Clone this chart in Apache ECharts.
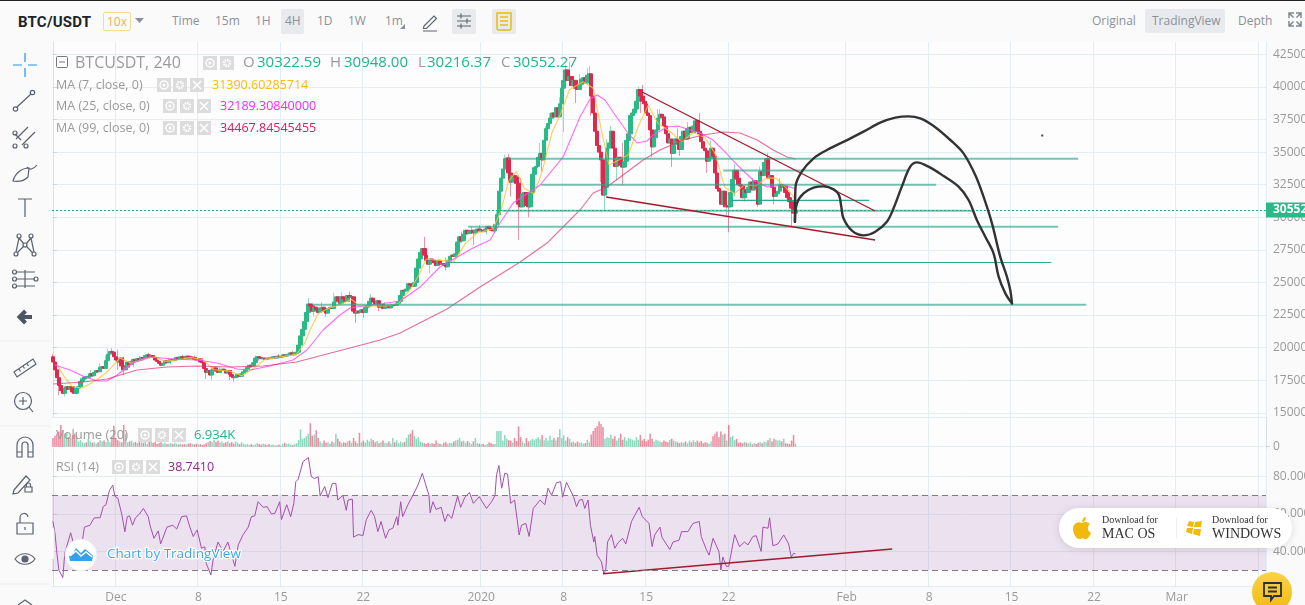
<!DOCTYPE html>
<html>
<head>
<meta charset="utf-8">
<title>BTC/USDT</title>
<script src="https://cdn.jsdelivr.net/npm/echarts@6/dist/echarts.min.js"></script>
<style>
  html, body { margin: 0; padding: 0; width: 1305px; height: 605px; overflow: hidden; background: #fafafa; font-family: "Open Sans", "Noto Sans", sans-serif; }
  #chart { position: absolute; left: 0; top: 0; width: 1305px; height: 605px; }
  .bar { position: absolute; left: 0; top: 0; width: 1305px; height: 41px; background: #fafafa; border-top: 1px solid #222; box-sizing: border-box; }
  .t { position: absolute; white-space: nowrap; font-size: 12px; color: #8a919b; line-height: 16px; }
  .on { position: absolute; background: #e8eaed; border-radius: 2px; }
  .tools { position: absolute; left: 0; top: 41px; width: 51px; height: 564px; background: #fafafa; }
  svg { position: absolute; left: 0; top: 0; overflow: visible; }
  .pill { position: absolute; left: 1059px; top: 508px; width: 233px; height: 40px; border-radius: 20px; background: #fff; box-shadow: 0 1px 8px rgba(0,0,0,.12); }
  .pill .s { position: absolute; white-space: nowrap; font-family: "Liberation Serif", serif; color: #333; }
  .chat { position: absolute; left: 1252px; top: 572px; width: 40px; height: 40px; border-radius: 50%; background: linear-gradient(#f9d34a, #f2b90f); }
</style>
</head>
<body>
<div id="chart"></div>

<div class="bar">
  <div class="t" style="left:18px;top:11px;font:bold 15px 'Roboto',sans-serif;color:#1e2329;line-height:20px;letter-spacing:.2px">BTC/USDT</div>
  <div class="t" style="left:103px;top:11px;width:26px;height:17px;border:1px solid #f5dc96;border-radius:2px;text-align:center;color:#e0b64c;line-height:17px">10x</div>
  <div class="on" style="left:281px;top:8px;width:23px;height:25px"></div>
  <div class="on" style="left:452px;top:8px;width:24px;height:25px"></div>
  <div class="on" style="left:492px;top:8px;width:24px;height:25px"></div>
  <div class="on" style="left:1145px;top:8px;width:80px;height:24px"></div>
  <div class="t" style="left:172px;top:12px">Time</div>
  <div class="t" style="left:215px;top:12px">15m</div>
  <div class="t" style="left:255px;top:12px">1H</div>
  <div class="t" style="left:285px;top:12px">4H</div>
  <div class="t" style="left:317px;top:12px">1D</div>
  <div class="t" style="left:348px;top:12px">1W</div>
  <div class="t" style="left:385px;top:12px">1m</div>
  <div class="t" style="left:1092px;top:12px">Original</div>
  <div class="t" style="left:1152px;top:12px">TradingView</div>
  <div class="t" style="left:1238px;top:12px">Depth</div>
</div>

<div class="tools"></div>

<svg width="1305" height="605" fill="none" stroke="#59626e" stroke-width="1.2">
  <path d="M135 18h9l-4.500 5z" fill="#8a919b" stroke="none"/>
  <path d="M405 29v-5l-5 5z" fill="#8a919b" stroke="none"/>
  <path d="M424 26l10-10 2.500 2.500-10 10h-3zM423 31h14" stroke="#5c6570"/>
  <path d="M457 16h14M457 21h14M457 26h14M461 13.500v5M467 18.500v5M461 23.500v5" stroke="#5c6570"/>
  <path d="M497 13h14v15a2 2 0 0 1-2 2h-10a2 2 0 0 1-2-2zM500 17h8M500 21h8M500 25h8" stroke="#efb90b" stroke-width="1.500"/>
  <path d="M1289 18v-5h5M1301 18v-5h-5M1289 21v5h5M1301 21v5h-5M1289 13l4.500 4.500M1301 13l-4.500 4.500M1289 26l4.500-4.500M1301 26l-4.500-4.500" stroke="#7e8791" stroke-width="1.500"/>

  <path d="M13 65h9M28 65h9M25 53v9M25 68v9" stroke="#2196e8"/>
  <path d="M17 107l14-13"/><circle cx="15.500" cy="109" r="2.200"/><circle cx="32.500" cy="92.500" r="2.200"/>
  <path d="M16 139l12-12M22 145l13-13M15 134l6 6"/><circle cx="15" cy="133" r="2"/><circle cx="15" cy="146" r="2"/><circle cx="26" cy="146" r="2"/>
  <path d="M13 181c2-8 9-13 16-13l-1 9c-4 4-9 5-15 4zM27 167c2 3 6 3 10-2"/>
  <path d="M18 199h14M25 199v18"/>
  <circle cx="16" cy="254" r="2"/><circle cx="19" cy="236" r="2"/><circle cx="31" cy="236" r="2"/><circle cx="25" cy="245" r="2"/><circle cx="34" cy="254" r="2"/>
  <path d="M16 252l3-14M19 238l5 6M31 238l-5 6M31 238l3 14M26 246l7 7M17 253l7-7"/>
  <path d="M17 272h18M17 279h18M17 286h18M25 270v18"/><circle cx="14.500" cy="272" r="2"/><circle cx="14.500" cy="279" r="2"/><circle cx="14.500" cy="286" r="2"/><circle cx="36" cy="279" r="2"/>
  <path d="M32 317H20M25.500 311l-6 6 6 6" stroke="#4b5563" stroke-width="4"/>
  <path d="M0 341h50M0 426h50M0 584h50" stroke="#ecedef"/>
  <path d="M14 372l19-13 3 5-19 13zM19 369l1.500 2.500M23 366l1.500 2.500M27 363.500l1.500 2.500"/>
  <circle cx="23" cy="401" r="8.500"/><path d="M29 407l4 5M19 401h8M23 397v8"/>
  <path d="M17 457v-12a8 8 0 0 1 16 0v12h-5v-12a3 3 0 0 0-6 0v12zM17 452h5M28 452h5"/>
  <path d="M14 490l12-14 4 4-12 13-5 1zM25 492h7v-5h-7zM26.500 487v-2a2 2 0 0 1 4 0v2"/>
  <path d="M17 534v-11h16v11zM20 523v-5a4 4 0 0 1 8-1M25 527v3" /><path d="M25 559m-10 0c5-7 15-7 20 0c-5 7-15 7-20 0z"/><circle cx="25" cy="559" r="3" fill="#59626e"/>
  <path d="M18 605l7-5 7 5" stroke="#59626e"/>
</svg>

<div class="pill">
  <svg style="left:13px;top:9px" width="20" height="23" viewBox="0 0 20 23" stroke="none"><path d="M10 6c3-2 6-1 8 1-3 2-3 7 1 9-1 3-4 7-6 6-2-1-3-1-5 0-3 1-7-5-7-10C1 7 6 4 10 6zM10 5c0-3 2-5 4-5 0 3-2 5-4 5z" fill="#f0b90b"/></svg>
  <div class="s" style="left:43px;top:6px;font-size:10px">Download for</div>
  <div class="s" style="left:43px;top:18px;font-size:14px">MAC OS</div>
  <div style="position:absolute;left:117px;top:10px;width:1px;height:20px;background:#eceef0"></div>
  <svg style="left:127px;top:12px" width="17" height="17" viewBox="0 0 17 17" stroke="none"><path d="M3 1l5 1-1 5-6-1zM9 2l7-1-1 6-7 0zM1 8l6 0-1 6-6-2zM8 9l7 0-1 7-7-2z" fill="#f0b90b"/></svg>
  <div class="s" style="left:153px;top:6px;font-size:10px">Download for</div>
  <div class="s" style="left:153px;top:18px;font-size:14px">WINDOWS</div>
</div>
<div class="chat"><svg style="left:11px;top:10px" width="20" height="22" fill="none" stroke="#2b2f36" stroke-width="1.800"><path d="M1 1h17v13H11l-3 4v-4H1zM5 5.500h9M5 9.500h9"/></svg></div>

<script>
// Chart window: 4-hour bars on a shared bar index; 618 slots cover the visible range.
const slotCount = 618;
const tickIndexes = [32, 74, 116, 158, 218, 260, 302, 344, 404, 446, 488, 530, 572, 614];
const tickLabels = ['Dec', '8', '15', '22', '2020', '8', '15', '22', 'Feb', '8', '15', '22', 'Mar', ''];
const priceTicks = [42500, 40000, 37500, 35000, 32500, 30000, 27500, 25000, 22500, 20000, 17500, 15000];
const rsiTicks = [80, 60, 40];

const closes = [
  18900,18300,17700,17100,16700,16500,16900,17000,16800,17000,
  16600,16500,16900,17000,17400,17600,17750,17700,17800,18000,
  17850,18100,18250,18150,18500,18550,18400,19000,19500,19700,
  19650,19300,19050,18900,19200,18600,18300,18500,18900,18700,
  18950,19100,19000,19150,19050,19250,19200,19400,19450,19300,
  19400,19250,19050,18950,18800,18650,18800,19000,18850,19050,
  19100,19000,19150,19250,19100,19300,19250,19150,19350,19300,
  19200,19250,19100,19050,19150,18900,18850,18400,18100,18250,
  17900,18300,18450,18200,18100,18300,18350,18250,18050,18250,
  17950,17800,17700,17780,17950,17800,18000,18150,18350,18500,
  18650,18600,18850,19200,19300,19250,19150,19200,19100,19200,
  19150,19250,19300,19200,19350,19250,19300,19450,19350,19400,
  19500,19600,19450,19550,19650,20200,20900,21400,22000,22700,
  23350,23200,22800,23100,22900,22700,23050,23100,22800,22650,
  23000,23100,23000,23500,23900,23600,23400,23900,23750,23550,
  24000,23850,23900,22800,22650,22800,22700,22900,22700,23100,
  23200,23550,23800,23500,23300,23600,23100,23300,23000,23150,
  23250,23050,23200,23300,23250,23400,23550,24000,24400,24350,
  24500,24900,24800,24700,25000,26100,26800,27300,27600,27100,
  26700,26400,26800,26700,26500,26300,26700,26400,26450,26300,
  26200,26700,27000,27100,27000,27200,28100,28500,28200,28700,
  29000,28750,28900,29000,28800,29000,29100,28950,29000,28900,
  29100,29300,29150,29000,28950,29450,30200,32000,33000,33700,
  34500,34550,33400,32700,33200,33100,32600,31000,30800,31800,
  31900,30900,30800,31900,33300,33800,33900,34600,34900,34400,
  35900,36800,37200,37600,38000,37700,38400,37700,38700,39900,
  40500,41300,40500,40800,40100,40500,39900,39800,40200,40600,
  40700,40300,40900,41000,39300,38000,36600,35500,35000,34400,
  31700,32300,35300,35700,36600,35300,33900,34500,34600,34000,
  33850,34300,35900,36400,37800,38000,38300,38900,39800,39300,
  38900,38700,38000,37800,36700,35400,36100,36700,37600,37900,
  37700,37000,36400,35700,36000,34900,35600,36000,35900,35200,
  36200,36600,36000,36800,36900,36500,37000,37400,36600,36400,
  35800,35300,35100,34300,34500,35300,34700,33400,32200,32000,
  31000,32000,30800,30900,30800,31900,32900,33600,33000,32500,
  32400,31500,32100,31900,32300,32700,32100,32800,32300,31000,
  33500,33200,34200,34500,33000,33200,32300,31600,31800,32000,
  32500,32300,32400,31900,31500,31200,30700,30322.59,30552.27
];
const firstOpen = 19300;

// Wick extremes that stand clear of the bodies: [bar, price].
const wickHighs = [
  [0,19500],[4,17600],[14,17700],[19,18300],[24,18800],[27,19400],[28,19900],[30,19950],[33,19850],[36,19300],
  [44,19350],[49,19600],[59,19250],[66,19450],[72,19400],[81,18600],[85,18500],[98,18450],[103,19400],[115,19500],
  [122,19750],[130,23800],[137,23500],[143,24200],[147,24250],[151,24300],[162,24100],[169,23500],[172,23500],
  [177,24300],[186,27100],[189,28500],[200,26900],[208,28900],[213,29300],[217,29400],[226,30500],[230,34800],[232,34850],
  [238,33000],[248,35700],[251,37000],[253,38000],[258,39200],[261,41700],[263,41950],[268,41000],[272,41450],[273,41600],
  [282,36000],[284,37000],[290,35700],[298,40000],[300,40150],[308,38300],[309,38300],[314,36600],[318,36800],[323,37300],
  [329,38000],[335,35900],[347,34100],[356,33000],[360,33900],[364,34900],[370,33000],[378,30948]
];
const wickLows = [
  [3,16350],[6,16250],[12,16400],[33,18300],[36,17900],[41,18500],[60,18700],[78,17600],[81,17500],[90,17500],[92,17400],
  [105,19000],[133,22400],[139,22350],[154,21900],[158,22300],[166,22800],[192,25700],[200,25950],[214,27880],[221,28650],
  [225,28800],[233,31600],[237,28250],[242,30000],[249,33500],[253,36800],[260,36550],[266,38760],[274,37800],
  [279,32700],[281,30550],[287,32850],[290,32460],[299,38000],[305,34600],[307,35800],[315,33860],[319,34700],[333,33400],
  [343,30000],[344,28850],[347,31600],[352,31200],[359,30800],[367,31000],[376,29250],[378,30216.37]
];

const volumes = [
  20,25,30,35,50,38,30,32,22,20,
  27,30,25,12,15,10,8,10,18,12,
  9,10,7,10,15,12,14,10,13,11,
  22,48,20,15,12,10,50,30,10,12,
  14,9,11,8,13,10,9,14,7,20,
  12,9,11,6,8,10,7,9,6,7,
  8,6,9,7,5,7,5,6,5,7,
  8,6,5,7,5,6,4,5,8,11,
  13,10,16,11,14,9,12,8,10,12,
  8,11,7,12,9,6,10,7,5,6,
  4,6,4,5,8,6,5,7,5,4,
  6,4,5,3,4,5,3,7,9,6,
  7,5,4,6,8,15,40,18,20,24,
  30,54,25,28,38,20,12,8,14,9,
  10,7,12,9,30,18,12,8,10,9,
  12,14,9,20,12,8,32,10,14,9,
  16,12,18,15,10,13,8,11,14,8,
  9,12,7,20,10,14,8,12,9,11,
  20,28,30,38,25,18,22,12,10,8,
  6,9,7,8,6,14,8,7,5,9,
  10,7,9,8,12,14,16,20,12,14,
  9,13,10,6,12,20,8,7,5,7,
  4,6,10,8,6,6,36,36,36,14,
  27,18,15,14,10,20,13,47,22,12,
  8,20,12,14,18,15,18,22,17,27,
  15,20,14,25,16,20,14,22,40,20,
  26,14,22,18,10,12,8,12,9,10,
  7,8,16,10,28,36,43,47,58,52,
  45,18,22,20,28,18,24,14,20,30,
  16,22,14,20,18,16,14,22,16,27,
  14,18,12,16,30,18,12,16,14,12,
  10,14,12,10,16,18,14,12,10,8,
  11,9,12,8,14,10,15,11,14,10,
  13,8,10,9,7,12,24,30,35,22,
  35,28,30,14,50,22,25,15,18,9,
  10,8,11,9,7,10,5,8,6,9,
  10,8,12,10,15,20,12,18,16,14,
  15,12,18,8,7,6,14,27,6.934
];

// Moving averages: [bar, price].
const ma7 = [[2,18700],[6,17700],[10,17000],[15,16900],[22,17500],[28,18200],[34,19200],[40,18800],[46,19100],[52,19300],[57,18950],[63,19050],[70,19250],[76,19100],[82,18300],[90,18200],[96,17850],[102,18400],[108,19100],[116,19300],[124,19500],[128,20300],[131,21400],[135,22600],[140,23000],[146,23300],[152,23700],[156,23200],[162,23200],[170,23200],[176,23400],[182,24500],[186,25500],[190,26800],[196,26700],[204,26600],[210,28000],[216,28800],[224,29100],[228,30500],[232,32800],[236,33500],[240,32200],[245,31800],[249,33500],[254,36500],[258,37800],[263,39800],[270,40400],[275,39900],[279,36800],[283,34000],[288,34400],[293,34800],[298,37000],[303,38600],[308,37200],[314,36600],[320,35800],[326,36500],[332,36100],[337,34900],[342,32300],[347,31800],[352,32500],[358,32400],[363,33000],[368,33000],[373,32300],[378,31390.6]];
const ma25 = [[1,18670],[8.7,18285],[16.3,17750],[22.9,17440],[27.5,17440],[32.6,17900],[40.7,18825],[49.4,19285],[61.1,19130],[73.3,19055],[83.5,18825],[93.7,18360],[100.3,18285],[110.5,18590],[122.2,19055],[129.3,19820],[137.5,21355],[146.1,22505],[151.2,23045],[157.8,23195],[166.5,23350],[176.7,23580],[186.9,24650],[197,26185],[205.7,26955],[213.8,27650],[222.5,28260],[227.6,29560],[234.2,31095],[248,32475],[259.7,34625],[268.3,37690],[273.4,39070],[277,39375],[281,38995],[285.1,38075],[292.3,36540],[297.4,35695],[302.4,35850],[305.5,36310],[312.6,36925],[318.2,37000],[324.3,36695],[329.4,36465],[336,35925],[341.1,35160],[348.3,34010],[356.4,32860],[363.5,32320],[371.7,32475],[378,32189.3]];
const ma99 = [[0,17212],[15.3,17365],[27.5,17595],[42.8,18285],[58,18515],[73.3,18590],[90,18515],[107,18590],[124,18900],[137.5,19435],[151.2,19975],[166.5,20590],[176.7,21125],[200.6,22965],[217.4,24650],[237.8,26570],[251.5,28025],[261.7,29560],[268.3,30560],[275,31860],[282,32320],[290.2,33240],[300.4,34395],[309,35160],[320.7,35925],[330.9,36310],[341.1,36540],[349.8,36465],[358.5,35925],[366.6,35160],[373.7,34620],[378,34467.8]];

// RSI(14) along the bars: [bar, value].
const rsiLine = [[0,56],[1,50],[2,39],[3,30],[5,26],[6,39],[9,50],[12,38],[15,46],[16,53],[18.8,54],[21,58],[24,58],[25.6,64],[27,65],[28.7,72.5],[30.4,75.5],[31.5,69.5],[33,68.5],[35,60],[36.6,50.5],[37.8,58.6],[39,59],[40.5,54],[42,58],[44,60],[46,63],[48.5,58.6],[49.4,54],[51.4,47],[53.6,51],[54.8,44],[58,53],[61,54],[63,52],[65.5,58.6],[68,59],[69.7,53],[71.4,48],[73.4,51.5],[75.6,41.7],[77.3,42.5],[78,33.6],[80.4,27.4],[81.5,35.4],[84,45],[86.6,40],[89,45],[92.6,32],[94.3,43.5],[96.8,49],[99.4,53],[101,58.6],[102.7,59],[104.4,66.6],[107,63.6],[109,64],[111.2,60],[113,60.4],[115.4,66.6],[116.3,57],[119,65],[121,58.6],[122.6,65.7],[123.6,77.3],[124.8,78.6],[127.3,88],[130,90.3],[131.5,80],[133.2,79],[135,80],[136,69.7],[138.3,74.7],[140,68.8],[142.2,76.4],[144,76.4],[145,67.5],[147.6,70],[149.3,62],[150.2,67.5],[152.4,68],[153,47.6],[155.3,49],[157.8,48.5],[159.5,57],[162,62],[163.7,58.6],[165.4,50.6],[167,56],[169.3,47],[171,51.5],[173,52.4],[175,58.6],[175.6,54],[177,66.6],[178,58.6],[180.7,65],[183.2,70],[185.8,75.5],[188,81.8],[189,81.8],[191.4,70],[192,60.7],[193.4,66.6],[195,62.5],[197.6,63.6],[199.5,56],[201,60],[203,57.7],[206,69.7],[207.5,63.6],[209.7,69],[212,71.6],[214,65.7],[217,69.3],[218,67.5],[220.7,63],[223.3,66.6],[225,70],[225.8,81],[227,86],[228.4,73.8],[230,81.8],[231.4,81.4],[233,65.7],[235,67.5],[237.3,48.8],[238.5,54],[240.7,55],[242.4,48],[244.5,63],[248,67.5],[250.4,65],[252,73.8],[253.8,70],[256.3,76.8],[258.4,77.3],[259.4,69],[261.4,77],[265,69.3],[266.5,64],[268,67.5],[269.5,67.8],[270.7,63],[272.4,67.5],[273.6,54],[275.3,45],[275.8,48],[277,38],[279.2,34.5],[280.4,28],[281.4,30],[282.3,45],[284.3,49],[286,41.7],[287.7,44.7],[290,47],[291.6,44],[294.5,56],[296,59],[298.4,63.6],[300,58.6],[303.4,55],[305,42.6],[306.3,48.8],[309,53],[310,47.6],[314,41],[315.6,45],[318.7,46],[320,50.6],[323.3,50.6],[325.8,55],[329,56],[330,48],[332.6,41],[334,38],[336,47],[339,40],[340,30],[341,37],[342.8,32],[344,32],[347,49],[349.5,42.6],[352,45],[353.8,43.5],[356.3,48],[358,48.4],[360.5,40],[361.4,53],[364,52.4],[364.8,58],[366.5,43],[369,44],[372,48.8],[374.5,44],[375.8,37],[377,39],[378,38.74]];

// Analyst drawings on the price pane: horizontal levels in USDT with their bar spans.
const levelPrices = [34493, 33587, 32500, 31300, 30504, 29277, 26531, 23295];
const levelStarts = [231.7, 341.2, 248.5, 345.7, 228.6, 211.3, 200.6, 131.9];
const levelEnds = [521.9, 434.8, 449.6, 415.5, 468.4, 511.7, 508.2, 526];
const trendUpper = [[299.9,39608],[418.5,30481]];
const trendLower = [[281.6,31555],[418.5,28257]];
const trendRsi = [[280,28.1],[427.2,41.3]];
const sketchHigh = [[377.7,29662],[378,32347],[381.2,33497],[387.2,34520],[394,35160],[405,35978],[412.6,36566],[421.1,37256],[428.8,37640],[435.5,37742],[441.5,37589],[448.3,37000],[456.8,35927],[463.5,34904],[469.5,33242],[473.7,31580],[478,29534],[482.2,26977],[485.6,25443],[487.3,24420],[488.2,23397]];
const sketchLow = [[377.7,29662],[378.7,31068],[382.1,31835],[387.2,32270],[392.3,32372],[397.4,32142],[400.1,31708],[401.3,30813],[402.4,29918],[406.7,28971],[412.6,28614],[418.6,28895],[424.5,29662],[427.9,30685],[432.1,32347],[436.4,33881],[439.8,34213],[445.7,33881],[453.4,33165],[461,32347],[466.1,31324],[470.3,29790],[474.6,28511],[478.8,27233],[481.4,25443],[484.8,24165],[488.2,23397]];
const strayDot = [[503.6,36270]];

const lastPrice = 30552.27;
const GREEN = '#2bb987', RED = '#e0284f', GRID = '#e4edf3', LABEL = '#9a9a9a';

const opens = closes.map((c, i) => i === 0 ? firstOpen : closes[i - 1]);
const highByBar = new Map(wickHighs), lowByBar = new Map(wickLows);
const categories = Array.from({ length: slotCount }, (_, i) => String(i));
const tickLabelByIndex = new Map(tickIndexes.map((t, i) => [t, tickLabels[i]]));
const isTick = idx => tickLabelByIndex.has(idx);

const wickData = closes.map((c, i) => {
  const o = opens[i];
  return [o, c, lowByBar.has(i) ? lowByBar.get(i) : Math.min(o, c), highByBar.has(i) ? highByBar.get(i) : Math.max(o, c)];
});
const bodyData = closes.map((c, i) => [opens[i], c, Math.min(opens[i], c), Math.max(opens[i], c)]);
const isUp = i => closes[i] >= opens[i];

const bandAxis = (gridIndex, extra) => Object.assign({
  type: 'category', gridIndex, data: categories, boundaryGap: true,
  axisLine: { lineStyle: { color: GRID } }, axisTick: { show: false }, axisLabel: { show: false },
  splitLine: { show: true, interval: idx => isTick(idx), lineStyle: { color: GRID } }
}, extra);
const barScale = gridIndex => ({ type: 'value', gridIndex, min: -0.5, max: slotCount - 0.5, show: false });

const sideAxis = (gridIndex, min, max, ticks, fmt) => ({
  type: 'value', gridIndex, position: 'right', min, max, scale: true,
  axisLine: { show: true, lineStyle: { color: '#d9dfe4' } },
  axisTick: { show: true, length: 4, customValues: ticks, lineStyle: { color: '#cfd6db' } },
  axisLabel: { customValues: ticks, formatter: fmt, color: LABEL, fontSize: 12, margin: 7, fontFamily: 'Open Sans' },
  splitLine: { show: true, lineStyle: { color: GRID } }
});

const pane = (xAxisIndex, yAxisIndex, data, color, width, extra) => Object.assign({
  type: 'line', xAxisIndex, yAxisIndex, data, showSymbol: false, symbol: 'none', silent: true,
  lineStyle: { color, width }, animation: false, z: 4
}, extra);

const series = [
  { type: 'candlestick', xAxisIndex: 0, yAxisIndex: 0, data: wickData, barWidth: 1, z: 2, silent: true, animation: false,
    itemStyle: { color: 'rgba(43,185,135,.5)', color0: 'rgba(224,40,79,.5)', borderColor: 'rgba(43,185,135,.5)', borderColor0: 'rgba(224,40,79,.5)', borderWidth: 1 } },
  { type: 'candlestick', xAxisIndex: 0, yAxisIndex: 0, data: bodyData, barWidth: 4, z: 3, silent: true, animation: false,
    itemStyle: { color: GREEN, color0: RED, borderColor: GREEN, borderColor0: RED, borderWidth: 1 } },
  pane(3, 0, ma7, 'rgba(255,196,60,.85)', 1.1),
  pane(3, 0, ma25, 'rgba(255,80,250,.85)', 1.1),
  pane(3, 0, ma99, 'rgba(216,50,110,.7)', 1.1),
  { type: 'bar', xAxisIndex: 1, yAxisIndex: 1, data: volumes, barWidth: 1.5, silent: true, animation: false,
    itemStyle: { color: p => isUp(p.dataIndex) ? 'rgba(43,185,135,.55)' : 'rgba(224,40,79,.55)' } },
  pane(4, 2, rsiLine, '#a44fae', 1, {
    markArea: { silent: true, itemStyle: { color: 'rgba(150,90,165,.16)' }, data: [[{ yAxis: 70 }, { yAxis: 30 }]] },
    markLine: { silent: true, symbol: 'none', label: { show: false }, lineStyle: { color: '#85778a', type: [6, 4], width: 1 },
      data: [{ yAxis: 70 }, { yAxis: 30 }], animation: false }
  }),
  pane(4, 2, trendRsi, '#a01c2c', 1.5),
  pane(3, 0, [[-0.5, lastPrice], [slotCount - 0.5, lastPrice]], 'rgba(0,0,0,0)', 0, {
    markLine: { silent: true, symbol: 'none', animation: false,
      lineStyle: { color: '#14b582', type: [2, 2], width: 1 },
      label: { show: true, position: 'end', distance: 0, formatter: lastPrice.toFixed(2), color: '#fff', fontWeight: 'bold', fontSize: 12,
        backgroundColor: GREEN, padding: [2, 8, 1, 7], fontFamily: 'Open Sans' },
      data: [{ yAxis: lastPrice }] }
  })
];
levelPrices.forEach((p, i) => {
  const thin = i === 3 || i === 6;
  series.push(pane(3, 0, [[levelStarts[i], p], [levelEnds[i], p]], thin ? 'rgba(28,160,130,.9)' : 'rgba(48,165,140,.65)', thin ? 1.2 : 2, { z: 5 }));
});
series.push(pane(3, 0, trendUpper, '#a01c2c', 1.4, { z: 6 }));
series.push(pane(3, 0, trendLower, '#a01c2c', 1.4, { z: 6 }));
series.push(pane(3, 0, sketchHigh, '#333', 2.4, { smooth: 0.35, z: 7, lineStyle: { color: '#333', width: 2.4, cap: 'round', join: 'round' } }));
series.push(pane(3, 0, sketchLow, '#333', 2.4, { smooth: 0.35, z: 7, lineStyle: { color: '#333', width: 2.4, cap: 'round', join: 'round' } }));
series.push({ type: 'scatter', xAxisIndex: 3, yAxisIndex: 0, data: strayDot, symbol: 'rect', symbolSize: 2, itemStyle: { color: '#444', opacity: 1 }, silent: true, animation: false, z: 7 });

// Legend rows and their small control glyphs.
const legendFont = 'Open Sans';
const txt = (x, y, text, fill, size, extra) => Object.assign({ type: 'text', x, y, z: 20, silent: true,
  style: Object.assign({ text, fill, font: `${size || 13}px "${legendFont}"`, verticalAlign: 'middle' }, extra || {}) });
const glyphBox = (x, y, kind) => {
  const out = [{ type: 'rect', z: 20, silent: true, shape: { x, y: y - 7, width: 14, height: 14 }, style: { fill: '#dcdcdc' } }];
  const cx = x + 7;
  if (kind === 'x') {
    out.push({ type: 'line', z: 21, silent: true, shape: { x1: cx - 4, y1: y - 4, x2: cx + 4, y2: y + 4 }, style: { stroke: '#fff', lineWidth: 1.6 } });
    out.push({ type: 'line', z: 21, silent: true, shape: { x1: cx - 4, y1: y + 4, x2: cx + 4, y2: y - 4 }, style: { stroke: '#fff', lineWidth: 1.6 } });
  } else if (kind === 'eye') {
    out.push({ type: 'circle', z: 21, silent: true, shape: { cx, cy: y, r: 4 }, style: { fill: 'none', stroke: '#fff', lineWidth: 1.4 } });
    out.push({ type: 'circle', z: 21, silent: true, shape: { cx, cy: y, r: 1.5 }, style: { fill: '#fff' } });
  } else {
    out.push({ type: 'circle', z: 21, silent: true, shape: { cx, cy: y, r: 3 }, style: { fill: 'none', stroke: '#fff', lineWidth: 2.4, lineDash: [1.5, .8] } });
  }
  return out;
};
const glyphs = (y, xs) => [...glyphBox(xs[0], y, 'eye'), ...glyphBox(xs[1], y, 'gear'), ...(xs[2] ? glyphBox(xs[2], y, 'x') : [])];
const ohlcFill = '#22b58a';
const legend = [
  { type: 'rect', z: 20, silent: true, shape: { x: 56.500, y: 56.500, width: 11, height: 11, r: 1 }, style: { fill: 'none', stroke: '#777' } },
  { type: 'line', z: 20, silent: true, shape: { x1: 59, y1: 62, x2: 65, y2: 62 }, style: { stroke: '#777' } },
  txt(75, 63, 'BTCUSDT, 240', '#9a9a9a', 16),
  ...glyphs(63, [203, 220]),
  txt(243, 63, 'O', '#9a9a9a', 15), txt(257, 63, '30322.59', ohlcFill, 15),
  txt(330, 63, 'H', '#9a9a9a', 15), txt(344, 63, '30948.00', ohlcFill, 15),
  txt(418, 63, 'L', '#9a9a9a', 15), txt(427, 63, '30216.37', ohlcFill, 15),
  txt(501, 63, 'C', '#9a9a9a', 15), txt(513, 63, '30552.27', ohlcFill, 15),
  txt(56, 85, 'MA (7, close, 0)', '#9a9a9a', 12.500), ...glyphs(85, [157, 173, 190]), txt(212, 85, '31390.60285714', '#fdb913', 12.500),
  txt(56, 106, 'MA (25, close, 0)', '#9a9a9a', 12.500), ...glyphs(106, [163, 180, 197]), txt(220, 106, '32189.30840000', '#ff28f0', 12.500),
  txt(56, 128, 'MA (99, close, 0)', '#9a9a9a', 12.500), ...glyphs(128, [163, 180, 197]), txt(220, 128, '34467.84545455', '#d81b60', 12.500),
  txt(56, 435, 'Volume (20)', '#9a9a9a', 13), ...glyphs(435, [138, 155, 172]), txt(194, 435, '6.934K', ohlcFill, 13),
  txt(56, 467, 'RSI (14)', '#9a9a9a', 12.500), ...glyphs(467, [112, 129, 146]), txt(168, 467, '38.7410', '#8e2a8e', 12.500),
  { type: 'circle', z: 20, silent: true, shape: { cx: 81, cy: 555, r: 16 }, style: { fill: '#fff', stroke: '#e8ecef', lineWidth: 1 } },
  { type: 'polygon', z: 21, silent: true, shape: { points: [[70,561],[69,556],[73,553],[76,548],[81,553],[85,549],[89,552],[93,556],[92,561]] }, style: { fill: '#35a1ea' } },
  { type: 'polyline', z: 22, silent: true, shape: { points: [[70,556],[76,551],[81,556],[86,552],[92,557]] }, style: { stroke: '#fff', lineWidth: 1.5, fill: 'none' } },
  txt(107, 554, 'Chart by TradingView', '#3ea6f2', 13.500, { stroke: '#fff', lineWidth: 2.500 }),
  { type: 'rect', z: 21, silent: true, shape: { x: 46, y: 527, width: 8, height: 33, r: 3 }, style: { fill: '#fff', stroke: '#e8e8e8' } },
  txt(48, 544, '‹', '#aaa', 11)
];

const chart = echarts.init(document.getElementById('chart'), null, { width: 1305, height: 605 });
const paneGrid = (top, height) => ({ left: 52, right: 39, top, height, show: true, backgroundColor: '#fdfdfd', borderWidth: 0, outerBoundsMode: 'none' });
chart.setOption({
  animation: false,
  backgroundColor: 'transparent',
  grid: [paneGrid(42, 375), paneGrid(417, 32), paneGrid(449, 137)],
  xAxis: [
    bandAxis(0), bandAxis(1),
    bandAxis(2, { axisLabel: { show: true, interval: idx => isTick(idx), formatter: v => tickLabelByIndex.get(+v) || '',
      color: LABEL, fontSize: 12, margin: 6, hideOverlap: false, fontFamily: 'Open Sans' } }),
    barScale(0), barScale(2)
  ],
  yAxis: [
    sideAxis(0, 14681, 43443, priceTicks, v => v.toFixed(2)),
    sideAxis(1, -5.3, 68.3, [0], v => String(v)),
    sideAxis(2, 21.5, 94.8, rsiTicks, v => v.toFixed(4))
  ],
  graphic: legend,
  series
});
</script>
</body>
</html>
